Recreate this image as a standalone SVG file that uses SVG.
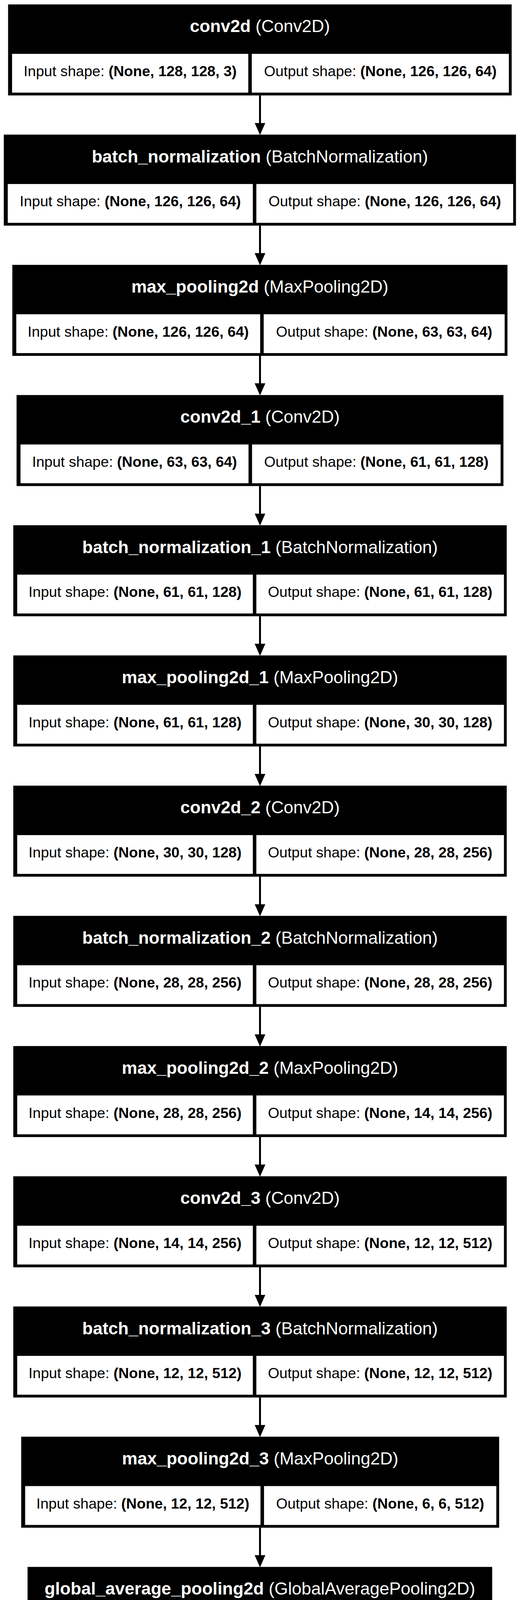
<svg xmlns="http://www.w3.org/2000/svg" width="1331" height="5256" viewBox="0 0 1331 5256">
<style>
.bg{fill:#000000}
.cell{fill:#ffffff;stroke:#000000;stroke-width:1}
.t{font-family:"Liberation Sans",Arial,Helvetica,sans-serif;font-size:44.5px;fill:#ffffff;text-anchor:middle}
.c{font-family:"Liberation Sans",Arial,Helvetica,sans-serif;font-size:37.6px;fill:#000000;text-anchor:middle}
.b{font-weight:bold}
.edge{stroke:#000000;stroke-width:5;fill:none;marker-end:url(#arr)}
</style>
<defs>
<marker id="arr" markerUnits="userSpaceOnUse" viewBox="0 -14 32 28" markerWidth="32" markerHeight="28" refX="1" refY="0" orient="auto">
<path d="M0,-13.7 L31,0 L0,13.7 Z" fill="#000000"/>
</marker>
</defs>
<rect x="0" y="0" width="1331" height="5256" fill="#ffffff"/>
<g id="edges">
<line class="edge" x1="665.5" y1="244.3" x2="665.5" y2="315.6"/>
<line class="edge" x1="665.5" y1="577.6" x2="665.5" y2="649"/>
<line class="edge" x1="665.5" y1="911" x2="665.5" y2="982.3"/>
<line class="edge" x1="665.5" y1="1244.3" x2="665.5" y2="1315.6"/>
<line class="edge" x1="665.5" y1="1577.6" x2="665.5" y2="1648.9"/>
<line class="edge" x1="665.5" y1="1910.9" x2="665.5" y2="1982.3"/>
<line class="edge" x1="665.5" y1="2244.3" x2="665.5" y2="2315.6"/>
<line class="edge" x1="665.5" y1="2577.6" x2="665.5" y2="2648.9"/>
<line class="edge" x1="665.5" y1="2910.9" x2="665.5" y2="2982.3"/>
<line class="edge" x1="665.5" y1="3244.3" x2="665.5" y2="3315.6"/>
<line class="edge" x1="665.5" y1="3577.6" x2="665.5" y2="3648.9"/>
<line class="edge" x1="665.5" y1="3910.9" x2="665.5" y2="3982.3"/>
<line class="edge" x1="665.5" y1="4244.3" x2="665.5" y2="4315.6"/>
<line class="edge" x1="665.5" y1="4577.6" x2="665.5" y2="4648.9"/>
<line class="edge" x1="665.5" y1="4910.9" x2="665.5" y2="4982.3"/>
</g>
<g id="node-conv2d">
<rect class="bg" x="20.7" y="11.3" width="1289" height="233"/>
<rect class="cell" x="30.3" y="137.3" width="605.7" height="100.4"/>
<rect class="cell" x="644" y="137.3" width="659" height="100.4"/>
<text class="t" x="665.2" y="82.3"><tspan class="b">conv2d</tspan> (Conv2D)</text>
<text class="c" x="333.2" y="194.9">Input shape: <tspan class="b">(None, 128, 128, 3)</tspan></text>
<text class="c" x="973.5" y="194.9">Output shape: <tspan class="b">(None, 126, 126, 64)</tspan></text>
</g>
<g id="node-batch_normalization">
<rect class="bg" x="9.7" y="344.6" width="1311" height="233"/>
<rect class="cell" x="19.3" y="470.6" width="628.4" height="100.4"/>
<rect class="cell" x="655.7" y="470.6" width="658.3" height="100.4"/>
<text class="t" x="665.2" y="415.6"><tspan class="b">batch_normalization</tspan> (BatchNormalization)</text>
<text class="c" x="333.5" y="528.2">Input shape: <tspan class="b">(None, 126, 126, 64)</tspan></text>
<text class="c" x="984.9" y="528.2">Output shape: <tspan class="b">(None, 126, 126, 64)</tspan></text>
</g>
<g id="node-max_pooling2d">
<rect class="bg" x="31.5" y="678" width="1267.4" height="233"/>
<rect class="cell" x="41.1" y="804" width="625.3" height="100.4"/>
<rect class="cell" x="674.4" y="804" width="617.8" height="100.4"/>
<text class="t" x="665.2" y="749"><tspan class="b">max_pooling2d</tspan> (MaxPooling2D)</text>
<text class="c" x="353.8" y="861.6">Input shape: <tspan class="b">(None, 126, 126, 64)</tspan></text>
<text class="c" x="983.3" y="861.6">Output shape: <tspan class="b">(None, 63, 63, 64)</tspan></text>
</g>
<g id="node-conv2d_1">
<rect class="bg" x="42.4" y="1011.3" width="1246.2" height="233"/>
<rect class="cell" x="52" y="1137.3" width="584.7" height="100.4"/>
<rect class="cell" x="644.7" y="1137.3" width="637.2" height="100.4"/>
<text class="t" x="665.5" y="1082.3"><tspan class="b">conv2d_1</tspan> (Conv2D)</text>
<text class="c" x="344.4" y="1194.9">Input shape: <tspan class="b">(None, 63, 63, 64)</tspan></text>
<text class="c" x="963.3" y="1194.9">Output shape: <tspan class="b">(None, 61, 61, 128)</tspan></text>
</g>
<g id="node-batch_normalization_1">
<rect class="bg" x="34" y="1344.6" width="1263" height="233"/>
<rect class="cell" x="43.6" y="1470.6" width="604.1" height="100.4"/>
<rect class="cell" x="655.7" y="1470.6" width="634.6" height="100.4"/>
<text class="t" x="665.5" y="1415.6"><tspan class="b">batch_normalization_1</tspan> (BatchNormalization)</text>
<text class="c" x="345.7" y="1528.2">Input shape: <tspan class="b">(None, 61, 61, 128)</tspan></text>
<text class="c" x="973" y="1528.2">Output shape: <tspan class="b">(None, 61, 61, 128)</tspan></text>
</g>
<g id="node-max_pooling2d_1">
<rect class="bg" x="34" y="1677.9" width="1263" height="233"/>
<rect class="cell" x="43.6" y="1803.9" width="604.1" height="100.4"/>
<rect class="cell" x="655.7" y="1803.9" width="634.6" height="100.4"/>
<text class="t" x="665.5" y="1748.9"><tspan class="b">max_pooling2d_1</tspan> (MaxPooling2D)</text>
<text class="c" x="345.7" y="1861.5">Input shape: <tspan class="b">(None, 61, 61, 128)</tspan></text>
<text class="c" x="973" y="1861.5">Output shape: <tspan class="b">(None, 30, 30, 128)</tspan></text>
</g>
<g id="node-conv2d_2">
<rect class="bg" x="34" y="2011.3" width="1263" height="233"/>
<rect class="cell" x="43.6" y="2137.3" width="604.1" height="100.4"/>
<rect class="cell" x="655.7" y="2137.3" width="634.6" height="100.4"/>
<text class="t" x="665.5" y="2082.3"><tspan class="b">conv2d_2</tspan> (Conv2D)</text>
<text class="c" x="345.7" y="2194.9">Input shape: <tspan class="b">(None, 30, 30, 128)</tspan></text>
<text class="c" x="973" y="2194.9">Output shape: <tspan class="b">(None, 28, 28, 256)</tspan></text>
</g>
<g id="node-batch_normalization_2">
<rect class="bg" x="34" y="2344.6" width="1263" height="233"/>
<rect class="cell" x="43.6" y="2470.6" width="604.1" height="100.4"/>
<rect class="cell" x="655.7" y="2470.6" width="634.6" height="100.4"/>
<text class="t" x="665.5" y="2415.6"><tspan class="b">batch_normalization_2</tspan> (BatchNormalization)</text>
<text class="c" x="345.7" y="2528.2">Input shape: <tspan class="b">(None, 28, 28, 256)</tspan></text>
<text class="c" x="973" y="2528.2">Output shape: <tspan class="b">(None, 28, 28, 256)</tspan></text>
</g>
<g id="node-max_pooling2d_2">
<rect class="bg" x="34" y="2677.9" width="1263" height="233"/>
<rect class="cell" x="43.6" y="2803.9" width="604.1" height="100.4"/>
<rect class="cell" x="655.7" y="2803.9" width="634.6" height="100.4"/>
<text class="t" x="665.5" y="2748.9"><tspan class="b">max_pooling2d_2</tspan> (MaxPooling2D)</text>
<text class="c" x="345.7" y="2861.5">Input shape: <tspan class="b">(None, 28, 28, 256)</tspan></text>
<text class="c" x="973" y="2861.5">Output shape: <tspan class="b">(None, 14, 14, 256)</tspan></text>
</g>
<g id="node-conv2d_3">
<rect class="bg" x="34" y="3011.3" width="1263" height="233"/>
<rect class="cell" x="43.6" y="3137.3" width="604.1" height="100.4"/>
<rect class="cell" x="655.7" y="3137.3" width="634.6" height="100.4"/>
<text class="t" x="665.5" y="3082.3"><tspan class="b">conv2d_3</tspan> (Conv2D)</text>
<text class="c" x="345.7" y="3194.9">Input shape: <tspan class="b">(None, 14, 14, 256)</tspan></text>
<text class="c" x="973" y="3194.9">Output shape: <tspan class="b">(None, 12, 12, 512)</tspan></text>
</g>
<g id="node-batch_normalization_3">
<rect class="bg" x="34" y="3344.6" width="1263" height="233"/>
<rect class="cell" x="43.6" y="3470.6" width="604.1" height="100.4"/>
<rect class="cell" x="655.7" y="3470.6" width="634.6" height="100.4"/>
<text class="t" x="665.5" y="3415.6"><tspan class="b">batch_normalization_3</tspan> (BatchNormalization)</text>
<text class="c" x="345.7" y="3528.2">Input shape: <tspan class="b">(None, 12, 12, 512)</tspan></text>
<text class="c" x="973" y="3528.2">Output shape: <tspan class="b">(None, 12, 12, 512)</tspan></text>
</g>
<g id="node-max_pooling2d_3">
<rect class="bg" x="54.3" y="3677.9" width="1223.3" height="233"/>
<rect class="cell" x="63.9" y="3803.9" width="603.3" height="100.4"/>
<rect class="cell" x="675.2" y="3803.9" width="595.7" height="100.4"/>
<text class="t" x="666" y="3748.9"><tspan class="b">max_pooling2d_3</tspan> (MaxPooling2D)</text>
<text class="c" x="365.6" y="3861.5">Input shape: <tspan class="b">(None, 12, 12, 512)</tspan></text>
<text class="c" x="973" y="3861.5">Output shape: <tspan class="b">(None, 6, 6, 512)</tspan></text>
</g>
<g id="node-global_average_pooling2d">
<rect class="bg" x="70.5" y="4011.3" width="1189.3" height="233"/>
<rect class="cell" x="80.1" y="4137.3" width="606.7" height="100.4"/>
<rect class="cell" x="694.8" y="4137.3" width="558.3" height="100.4"/>
<text class="t" x="665.2" y="4082.3"><tspan class="b">global_average_pooling2d</tspan> (GlobalAveragePooling2D)</text>
<text class="c" x="383.5" y="4194.9">Input shape: <tspan class="b">(None, 6, 6, 512)</tspan></text>
<text class="c" x="974" y="4194.9">Output shape: <tspan class="b">(None, 512)</tspan></text>
</g>
<g id="node-dense">
<rect class="bg" x="157.9" y="4344.6" width="1015.3" height="233"/>
<rect class="cell" x="167.5" y="4470.6" width="480.2" height="100.4"/>
<rect class="cell" x="655.7" y="4470.6" width="510.8" height="100.4"/>
<text class="t" x="665.5" y="4415.6"><tspan class="b">dense</tspan> (Dense)</text>
<text class="c" x="407.6" y="4528.2">Input shape: <tspan class="b">(None, 512)</tspan></text>
<text class="c" x="911.1" y="4528.2">Output shape: <tspan class="b">(None, 512)</tspan></text>
</g>
<g id="node-dropout">
<rect class="bg" x="157.9" y="4677.9" width="1015.3" height="233"/>
<rect class="cell" x="167.5" y="4803.9" width="480.2" height="100.4"/>
<rect class="cell" x="655.7" y="4803.9" width="510.8" height="100.4"/>
<text class="t" x="665.5" y="4748.9"><tspan class="b">dropout</tspan> (Dropout)</text>
<text class="c" x="407.6" y="4861.5">Input shape: <tspan class="b">(None, 512)</tspan></text>
<text class="c" x="911.1" y="4861.5">Output shape: <tspan class="b">(None, 512)</tspan></text>
</g>
<g id="node-dense_1">
<rect class="bg" x="177.3" y="5011.3" width="976" height="233"/>
<rect class="cell" x="186" y="5137.3" width="481.2" height="100.4"/>
<rect class="cell" x="675.2" y="5137.3" width="471.4" height="100.4"/>
<text class="t" x="665.3" y="5082.3"><tspan class="b">dense_1</tspan> (Dense)</text>
<text class="c" x="426.6" y="5194.9">Input shape: <tspan class="b">(None, 512)</tspan></text>
<text class="c" x="910.9" y="5194.9">Output shape: <tspan class="b">(None, 1)</tspan></text>
</g>
</svg>
